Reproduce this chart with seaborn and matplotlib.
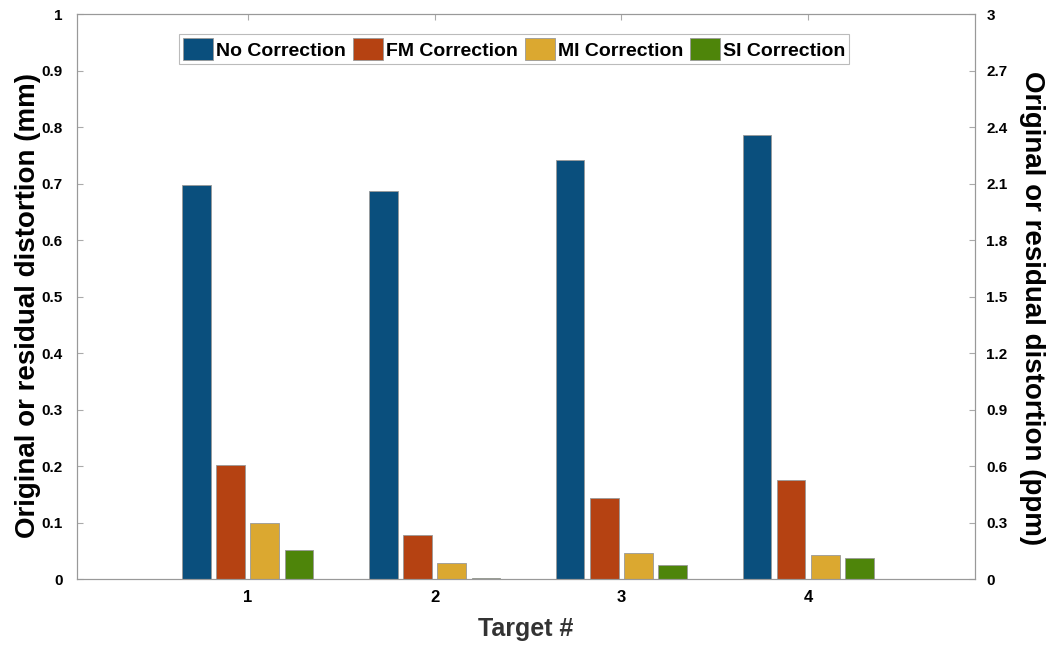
import numpy as np
import pandas as pd
import matplotlib.pyplot as plt
import seaborn as sns

targets = ['1', '2', '3', '4']
series = ['No Correction', 'FM Correction', 'MI Correction', 'SI Correction']
no_corr = [0.698, 0.688, 0.742, 0.786]
fm_corr = [0.202, 0.079, 0.144, 0.175]
mi_corr = [0.100, 0.029, 0.046, 0.043]
si_corr = [0.051, 0.002, 0.025, 0.038]
colors = ['#0a4f7d', '#b54212', '#dba830', '#4e850a']

left_ticks = [0, 0.1, 0.2, 0.3, 0.4, 0.5, 0.6, 0.7, 0.8, 0.9, 1]
left_labels = ['0', '0.1', '0.2', '0.3', '0.4', '0.5', '0.6', '0.7', '0.8', '0.9', '1']
right_ticks = [0, 0.3, 0.6, 0.9, 1.2, 1.5, 1.8, 2.1, 2.4, 2.7, 3]
right_labels = ['0', '0.3', '0.6', '0.9', '1.2', '1.5', '1.8', '2.1', '2.4', '2.7', '3']

df = pd.DataFrame({
    'Target': targets * 4,
    'Correction': np.repeat(series, 4),
    'Distortion': no_corr + fm_corr + mi_corr + si_corr,
})

sns.set_style('white')
plt.rcParams['font.family'] = ['Liberation Sans', 'DejaVu Sans']
plt.rcParams['font.weight'] = 'bold'
plt.rcParams['text.color'] = 'black'

fig, ax = plt.subplots(figsize=(10.51, 6.48), dpi=100)
fig.subplots_adjust(left=0.073, right=0.928, top=0.978, bottom=0.106)

sns.barplot(data=df, x='Target', y='Distortion', hue='Correction',
            palette=colors, saturation=1, width=0.73, gap=0.17, ax=ax,
            edgecolor='#999999', linewidth=0.6, errorbar=None)

ax.set_xlim(-0.914, 3.893)
ax.set_ylim(0, 1)
ax.set_yticks(left_ticks)
ax.set_yticklabels(left_labels)
ax.set_xlabel('Target #', fontsize=18, fontweight='bold', color='#333333', labelpad=8)
ax.set_ylabel('Original or residual distortion (mm)', fontsize=20, fontweight='bold',
              color='black')
ax.yaxis.set_label_coords(-0.040, 0.485)
ax.tick_params(axis='both', direction='in', length=4, color='#aaaaaa', labelsize=11,
               labelcolor='black', pad=8)
ax.tick_params(axis='x', top=True, labelsize=12)
ax.tick_params(axis='y', pad=10)
for lab in ax.get_xticklabels() + ax.get_yticklabels():
    lab.set_fontweight('bold')
for s in ax.spines.values():
    s.set_color('#999999')
    s.set_linewidth(0.8)

ax2 = ax.twinx()
ax2.set_ylim(0, 3)
ax2.set_yticks(right_ticks)
ax2.set_yticklabels(right_labels)
ax2.tick_params(axis='y', direction='in', length=4, color='#aaaaaa', labelsize=11,
                labelcolor='black', pad=8)
for lab in ax2.get_yticklabels():
    lab.set_fontweight('bold')
ax2.set_ylabel('Original or residual distortion (ppm)', fontsize=20, fontweight='bold',
               color='black', rotation=-90)
ax2.yaxis.set_label_coords(1.078, 0.48)
for s in ax2.spines.values():
    s.set_color('#999999')
    s.set_linewidth(0.8)

leg = ax.legend(loc='upper center', bbox_to_anchor=(0.487, 0.965), ncol=4,
                prop={'size': 14, 'weight': 'bold'},
                frameon=True, fancybox=False,
                handlelength=1.55, handleheight=1.4, handletextpad=0.15,
                columnspacing=0.35, borderpad=0.2, borderaxespad=0)
leg.get_frame().set_edgecolor('#aaaaaa')
leg.get_frame().set_linewidth(0.8)

fig.savefig('out.png', dpi=100)
